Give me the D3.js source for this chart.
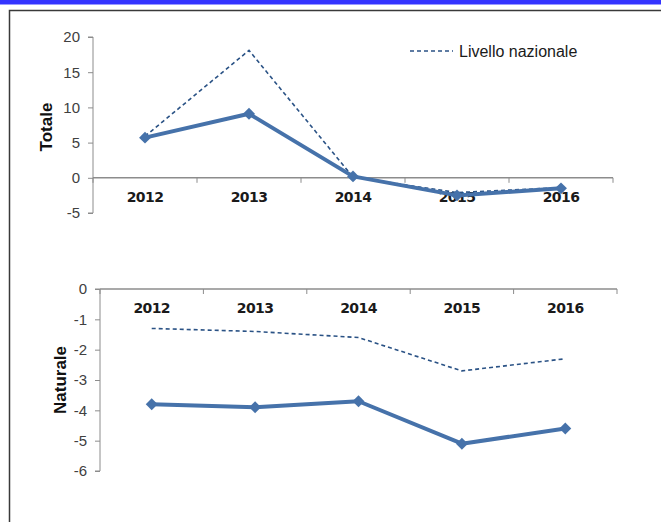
<!DOCTYPE html>
<html><head><meta charset="utf-8">
<script src="https://cdn.jsdelivr.net/npm/d3@7"></script>
<style>body{margin:0;background:#fff}svg{display:block}</style>
</head><body>
<svg id="c" width="661" height="522"></svg>
<script>
const years = ["2012","2013","2014","2015","2016"];
const totaleRegion = [5.7, 9.1, 0.2, -2.5, -1.5];
const totaleNational = [5.9, 18.1, 0.1, -2.1, -1.4];
const naturaleRegion = [-3.8, -3.9, -3.7, -5.1, -4.6];
const naturaleNational = [-1.3, -1.4, -1.6, -2.7, -2.3];
const totaleTicks = [20, 15, 10, 5, 0, -5];
const naturaleTicks = [0, -1, -2, -3, -4, -5, -6];
const legendLabel = "Livello nazionale";

const svg = d3.select("#c");
const solidColor = "#4672aa", dashColor = "#2a5285", axisColor = "#8c8c8c";

// header bar & frame
svg.append("rect").attr("x",0).attr("y",0).attr("width",661).attr("height",4).attr("fill","#3434ff");
svg.append("rect").attr("x",0).attr("y",4).attr("width",661).attr("height",1).attr("fill","#9a9aff");
svg.append("path").attr("d","M9.5,522 V10.5 H661").attr("fill","none").attr("stroke","#3a3a3a").attr("stroke-width",1.5);

function panel(opts){
  const x = d3.scaleBand().domain(years).range([opts.x0, opts.x1]);
  const y = d3.scaleLinear().domain([opts.ymin, opts.ymax]).range([opts.yb, opts.yt]);
  const g = svg.append("g");
  // y axis
  const ya = g.append("g").attr("transform",`translate(${opts.x0},0)`)
    .call(d3.axisLeft(y).tickValues(opts.ticks).tickSize(5).tickPadding(8).tickFormat(d=>String(d)));
  ya.select(".domain").attr("stroke",axisColor).attr("d",`M-5,${y(opts.ymax)}H0V${y(opts.ymin)}H-5`);
  ya.selectAll(".tick line").attr("stroke",axisColor);
  ya.selectAll("text").attr("font-family","Liberation Sans, Arial, sans-serif").attr("font-size",15).attr("fill","#404040");
  // x axis at 0
  const y0 = y(0);
  const xa = g.append("g").attr("transform",`translate(0,${y0})`);
  xa.append("line").attr("x1",opts.x0).attr("x2",opts.x1).attr("stroke",axisColor).attr("stroke-width",1.5);
  const edges = years.map(d=>x(d)).concat([opts.x1]);
  xa.selectAll("line.t").data(edges).enter().append("line").attr("class","t")
    .attr("x1",d=>d).attr("x2",d=>d).attr("y1",0).attr("y2",5).attr("stroke",axisColor);
  xa.selectAll("text").data(years).enter().append("text")
    .attr("x",d=>x(d)+x.bandwidth()/2).attr("y",opts.labelDy)
    .attr("text-anchor","middle").attr("font-family","DejaVu Sans, Verdana, sans-serif")
    .attr("font-size",14).attr("font-weight","bold").attr("letter-spacing",-0.6).attr("fill","#1a1a1a").text(d=>d);
  // axis title
  g.append("text").attr("transform",`translate(${opts.titleX},${opts.titleY}) rotate(-90)`)
    .attr("text-anchor","middle").attr("font-family","Liberation Sans, Arial, sans-serif")
    .attr("font-size",17).attr("font-weight","bold").attr("fill","#111").text(opts.title);
  const line = d3.line().x((d,i)=>x(years[i])+x.bandwidth()/2).y(d=>y(d));
  g.append("path").datum(opts.nat).attr("d",line).attr("fill","none").attr("stroke",dashColor)
    .attr("stroke-width",1.6).attr("stroke-dasharray","4,3");
  g.append("path").datum(opts.reg).attr("d",line).attr("fill","none").attr("stroke",solidColor)
    .attr("stroke-width",4).attr("stroke-linejoin","round");
  g.selectAll("path.m").data(opts.reg).enter().append("path").attr("class","m")
    .attr("d",d3.symbol(d3.symbolDiamond2,90))
    .attr("transform",(d,i)=>`translate(${x(years[i])+x.bandwidth()/2},${y(d)})`)
    .attr("fill",solidColor);
}

panel({x0:93,x1:613,yt:37,yb:213,ymin:-5,ymax:20,ticks:totaleTicks,reg:totaleRegion,nat:totaleNational,
  labelDy:24,title:"Totale",titleX:52,titleY:127});
panel({x0:100,x1:617,yt:289,yb:471,ymin:-6,ymax:0,ticks:naturaleTicks,reg:naturaleRegion,nat:naturaleNational,
  labelDy:24,title:"Naturale",titleX:66,titleY:380});

// legend
svg.append("line").attr("x1",410).attr("x2",453).attr("y1",51).attr("y2",51)
  .attr("stroke",dashColor).attr("stroke-width",1.6).attr("stroke-dasharray","4,3");
svg.append("text").attr("x",459).attr("y",57).attr("font-family","Liberation Sans, Arial, sans-serif")
  .attr("font-size",16).attr("fill","#1a1a1a").text(legendLabel);
</script>
</body></html>
